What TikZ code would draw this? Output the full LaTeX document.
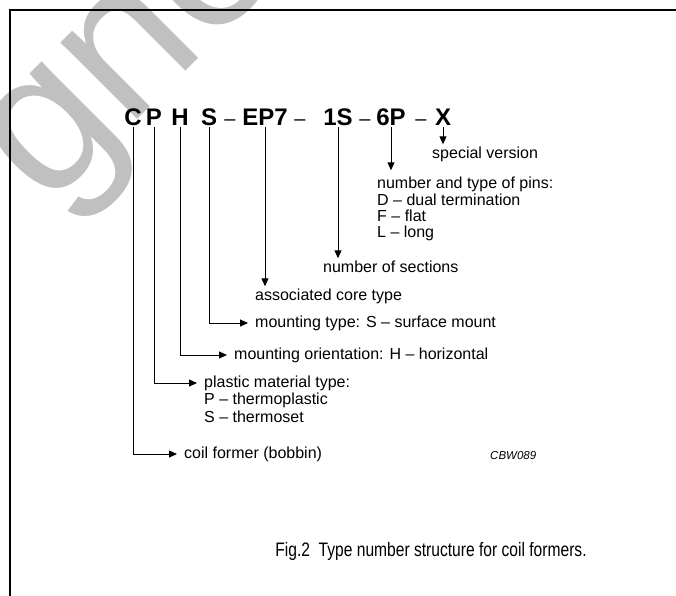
\documentclass[tikz,border=0pt]{standalone}
\usepackage{graphicx}
\usepackage{fontspec}
\setmainfont{Liberation Sans}
\usetikzlibrary{arrows.meta}
\definecolor{wm}{RGB}{192,192,192}
\tikzset{
  code/.style={font=\fontsize{24}{24}\selectfont\bfseries, inner xsep=0pt, inner ysep=2pt, text depth=0pt, anchor=base},
  dashc/.style={font=\fontsize{20}{20}\selectfont, inner sep=0pt, anchor=base},
  lbl/.style={font=\fontsize{16}{16}\selectfont, inner xsep=0pt, inner ysep=2pt, text height=11.5pt, text depth=3.5pt, anchor=base west},
  sl/.style={lbl, anchor=west, inner xsep=7pt},
  arr/.style={-{Triangle[length=8pt,width=7pt]}, line width=0.9pt},
}
\begin{document}
\begin{tikzpicture}[x=1pt,y=-1pt]
\useasboundingbox (0,0) rectangle (676,595);
% watermark
\node[rotate=45, anchor=base west, font=\fontsize{205}{205}\selectfont, text=wm, inner sep=0pt] (wmark) at (47,210) {gne};
% frame
\draw[line width=1.6pt] (690,10) -- (10,10) -- (10,610);
% code line
\node[code] (cC) at (133,125) {C};
\node[code] (cP) at (154,125) {P};
\node[code] (cH) at (180,125) {H};
\node[code] (cS) at (209,125) {S};
\node[dashc] (d1) at (230,125) {–};
\node[code] (cEP) at (265,125) {EP7};
\node[dashc] (d2) at (300,125) {–};
\node[code] (c1S) at (338,125) {1S};
\node[dashc] (d3) at (365,125) {–};
\node[code] (c6P) at (391,125) {6P};
\node[dashc] (d4) at (421,125) {–};
\node[code] (cX) at (443,125) {X};
% labels
\node[lbl] (lX) at (432,158) {special version};
\node[lbl] (lpins1) at (377,188) {number and type of pins:};
\node[lbl] (lpins2) at (377,205) {D – dual termination};
\node[lbl] (lpins3) at (377,221) {F – flat};
\node[lbl] (lpins4) at (377,237) {L – long};
\node[lbl] (l1S) at (323,272) {number of sections};
\node[lbl] (lEP) at (255,300) {associated core type};
\node[sl] (lS) at (248,323) {mounting type: S – surface mount};
\node[sl] (lH) at (227,355) {mounting orientation: H – horizontal};
\node[sl] (lP1) at (197,383) {plastic material type:};
\node[lbl] (lP2) at (204,404.5) {P – thermoplastic};
\node[lbl] (lP3) at (204,422) {S – thermoset};
\node[sl] (lC) at (177,454) {coil former (bobbin)};
\node[font=\fontsize{11.5}{11.5}\selectfont\itshape, anchor=base west, inner sep=0pt] (cbw) at (490,459) {CBW089};
% connectors
\draw[arr] (cX.south) -- (cX.south |- lX.north);
\draw[arr, shorten >=4pt] (c6P.south) -- (c6P.south |- lpins1.north);
\draw[arr] (c1S.south) -- (c1S.south |- l1S.north);
\draw[arr] (cEP.south) -- (cEP.south |- lEP.north);
\draw[arr] (cS.south) |- (lS.west);
\draw[arr] (cH.south) |- (lH.west);
\draw[arr] (cP.south) |- (lP1.west);
\draw[arr] (cC.south) |- (lC.west);
% caption
\node[font=\fontsize{19.5}{19.5}\selectfont, anchor=base, inner sep=0pt] (cap) at (431,556) {\scalebox{0.8}[1]{Fig.2\ \ Type number structure for coil formers.}};
\end{tikzpicture}
\end{document}
